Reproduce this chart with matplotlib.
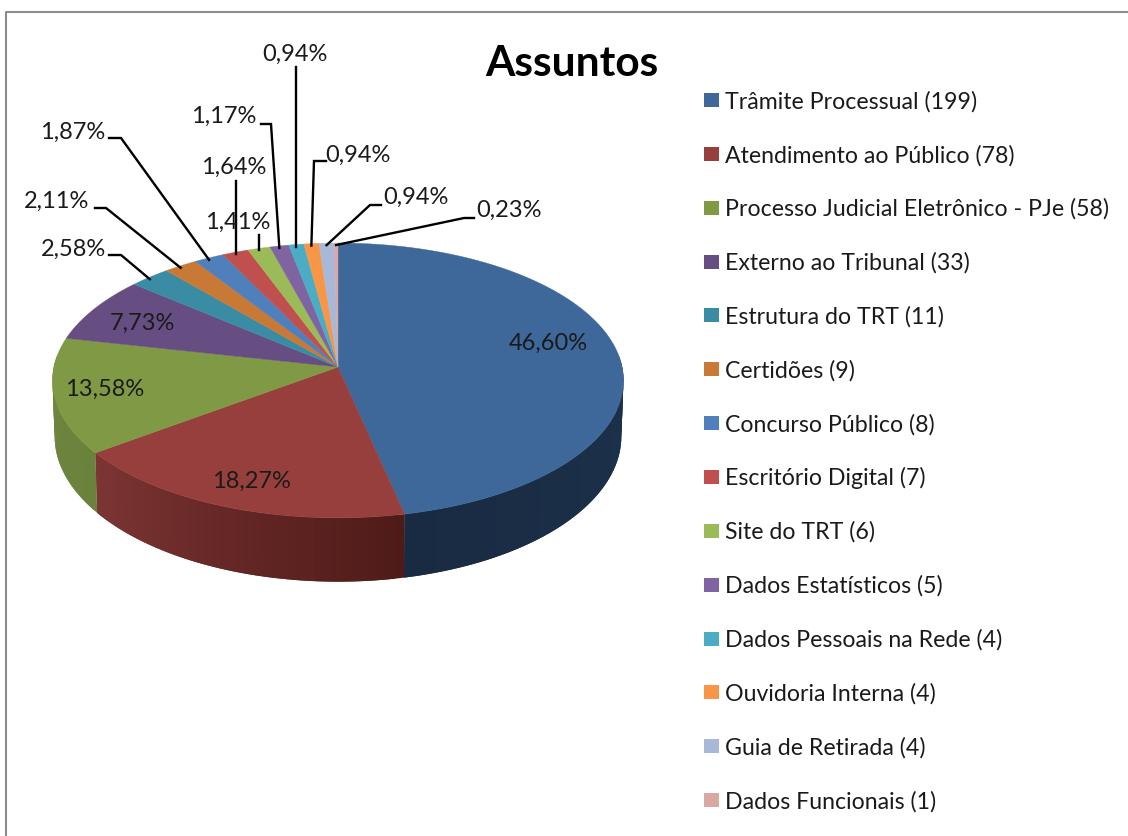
import numpy as np
import matplotlib
matplotlib.use("Agg")
import matplotlib.pyplot as plt
from matplotlib.colors import to_rgb
from matplotlib.patches import Rectangle

plt.rcParams['font.family'] = ['Lato', 'DejaVu Sans']

categories = ['Trâmite Processual', 'Atendimento ao Público', 'Processo Judicial Eletrônico - PJe',
              'Externo ao Tribunal', 'Estrutura do TRT', 'Certidões', 'Concurso Público',
              'Escritório Digital', 'Site do TRT', 'Dados Estatísticos', 'Dados Pessoais na Rede',
              'Ouvidoria Interna', 'Guia de Retirada', 'Dados Funcionais']
counts = [199, 78, 58, 33, 11, 9, 8, 7, 6, 5, 4, 4, 4, 1]
pct_labels = ['46,60%', '18,27%', '13,58%', '7,73%', '2,58%', '2,11%', '1,87%',
              '1,64%', '1,41%', '1,17%', '0,94%', '0,94%', '0,94%', '0,23%']
colors = ['#3d6899', '#963f3d', '#7f9945', '#674e82', '#3a8ca5', '#c87935', '#4f80bc',
          '#c0504d', '#9bbb59', '#8064a2', '#4bacc6', '#f79646', '#a8b8d8', '#dba7a5']
# side wall colours, clockwise along each visible slice
wall_colors = {0: ('#1c324b', '#192b43'), 1: ('#4f1b18', '#7c3534'), 2: ('#6a823c', '#6e863f')}

# label centre, then the elbow of the leader line (None if straight)
label_pos = [(548, 343), (251, 481), (105, 389), (142, 323), (73, 249), (57, 201), (73, 132),
             (234, 167), (238, 222), (224, 116), (295, 54), (358, 155), (416, 197), (509, 210)]
leader_start = [None, None, None, None, (109, 255), (95, 208), (109, 138),
                (236, 181), (259, 235), (261, 124), (296, 67), (326, 161), (381, 205), (474, 218)]
leader_elbow = [None, None, None, None, (121, 255), (106, 208), (121, 138),
                None, None, (271, 124), None, (314, 161), (370, 205), (464, 218)]

legend_y0 = 100
legend_step = 53.85


def rim(theta, rx, ry, y0):
    # perspective view of a circle, theta clockwise from the top
    u, v = np.sin(theta), np.cos(theta)
    d = 1 + 0.098 * v
    return 338 + rx * u / d, y0 - ry * v / d


fig = plt.figure(figsize=(11.28, 8.36), dpi=100)
ax = fig.add_axes([0, 0, 1, 1])
ax.set_xlim(0, 1128)
ax.set_ylim(836, 0)
ax.axis('off')

ax.plot([6, 6, 1128], [836, 12, 12], color='#8c8c8c', lw=1.5)

fractions = np.array(counts) / sum(counts)
edges = np.concatenate([[0], np.cumsum(fractions)]) * 2 * np.pi

# side wall
wall_lo, wall_hi = np.radians(85), np.radians(275)
for i, (c0, c1) in wall_colors.items():
    a, b = max(edges[i], wall_lo), min(edges[i + 1], wall_hi)
    n = 40
    steps = np.linspace(a, b, n + 1)
    for j in range(n):
        # each strip runs on under the next one so no seams show
        t = np.linspace(steps[j], steps[min(j + 2, n)], 4)
        xt, yt = rim(t, 284.1, 136.1, 367)
        xb, yb = rim(t, 282, 144, 422)
        f = j / (n - 1)
        col = (1 - f) * np.array(to_rgb(c0)) + f * np.array(to_rgb(c1))
        ax.fill(np.r_[xt, xb[::-1]], np.r_[yt, yb[::-1]], facecolor=col, edgecolor='none', zorder=2)

# top face
for i in range(len(counts)):
    t = np.linspace(edges[i], edges[i + 1], 200)
    x, y = rim(t, 284.1, 136.1, 367)
    ax.fill(np.r_[338, x], np.r_[367, y], color=colors[i], lw=0.3, zorder=3)

# leader lines
for i in range(len(counts)):
    if leader_start[i] is None:
        continue
    mid = (edges[i] + edges[i + 1]) / 2
    ex, ey = rim(mid, 284.1, 136.1, 367)
    pts = [leader_start[i]]
    if leader_elbow[i] is not None:
        pts.append(leader_elbow[i])
    else:
        ex = leader_start[i][0]
    pts.append((ex, ey + 2))
    ax.plot([p[0] for p in pts], [p[1] for p in pts], color='black', lw=1.7, zorder=4,
            solid_joinstyle='miter')

for i, lab in enumerate(pct_labels):
    ax.text(label_pos[i][0], label_pos[i][1], lab, ha='center', va='center',
            fontsize=17, color='#1a1a1a', zorder=5)

ax.text(572, 64, 'Assuntos', ha='center', va='center', fontsize=30.5, fontweight='bold',
        color='black', zorder=5)

# legend
for i, name in enumerate(categories):
    yy = legend_y0 + i * legend_step
    ax.add_patch(Rectangle((704, yy - 7), 15, 14, facecolor=colors[i], edgecolor='none', zorder=3))
    ax.text(725, yy + 1.5, f'{name} ({counts[i]})', ha='left', va='center', fontsize=16.7,
            color='#1a1a1a', zorder=5)

fig.savefig('out.png', dpi=100, facecolor='white')
